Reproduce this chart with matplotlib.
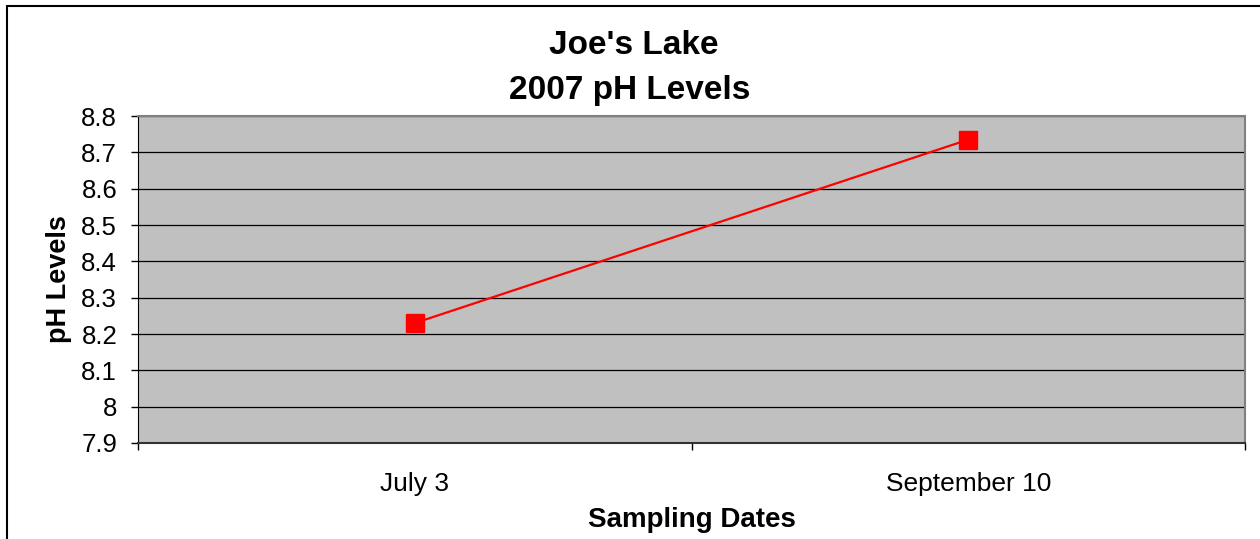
import matplotlib.pyplot as plt
from matplotlib.patches import Rectangle
from matplotlib.ticker import FormatStrFormatter, FixedLocator

# sampling data
dates = ["July 3", "September 10"]
ph_values = [8.23, 8.735]
y_ticks = [7.9, 8.0, 8.1, 8.2, 8.3, 8.4, 8.5, 8.6, 8.7, 8.8]

plt.rcParams['font.family'] = ['Liberation Sans', 'DejaVu Sans']

fig = plt.figure(figsize=(12.6, 5.39), dpi=100)
ax = fig.add_axes([138 / 1260, 1 - 443 / 539, (1245 - 138) / 1260, (443 - 116) / 539])

# plot area
ax.set_facecolor('#C0C0C0')
x = list(range(len(dates)))
ax.plot(x, ph_values, color='#FF0000', lw=1.6, marker='s', markersize=13.5,
        markerfacecolor='#FF0000', markeredgecolor='#FF0000', zorder=3)

ax.set_ylim(7.9, 8.8)
ax.set_yticks(y_ticks)
ax.yaxis.set_major_formatter(FormatStrFormatter('%g'))
ax.grid(axis='y', color='black', lw=0.9)
ax.set_axisbelow(True)

# category axis: ticks between categories, labels at centres
ax.set_xlim(-0.5, len(dates) - 0.5)
ax.xaxis.set_major_locator(FixedLocator([-0.5, 0.5, 1.5]))
ax.xaxis.set_minor_locator(FixedLocator(x))
ax.set_xticklabels([], minor=False)
ax.set_xticklabels(dates, minor=True)
ax.tick_params(axis='x', which='major', direction='out', length=5, width=1, color='black')
ax.tick_params(axis='x', which='minor', length=0, pad=21, labelsize=19)
ax.tick_params(axis='y', direction='out', length=5, width=1, pad=10, labelsize=18.5)

for side in ['top', 'right']:
    ax.spines[side].set_color('#808080')
    ax.spines[side].set_linewidth(1.5)
ax.spines['left'].set_color('black')
ax.spines['bottom'].set_color('#333333')
ax.spines['bottom'].set_linewidth(1.5)

ax.set_xlabel("Sampling Dates", fontsize=20, fontweight='bold', labelpad=8)
ax.set_ylabel("pH Levels", fontsize=19.5, fontweight='bold', labelpad=7)

fig.text(0.503, 1 - 46 / 539, "Joe's Lake", ha='center', va='center',
         fontsize=24, fontweight='bold')
fig.text(0.5, 1 - 90 / 539, "2007 pH Levels", ha='center', va='center',
         fontsize=24, fontweight='bold')

# outer chart border
fig.patches.append(Rectangle((7 / 1260, -0.1), 2, 1.1 - 6 / 539, transform=fig.transFigure,
                             fill=False, edgecolor='black', lw=1.5))

fig.savefig('out.png', dpi=100)
